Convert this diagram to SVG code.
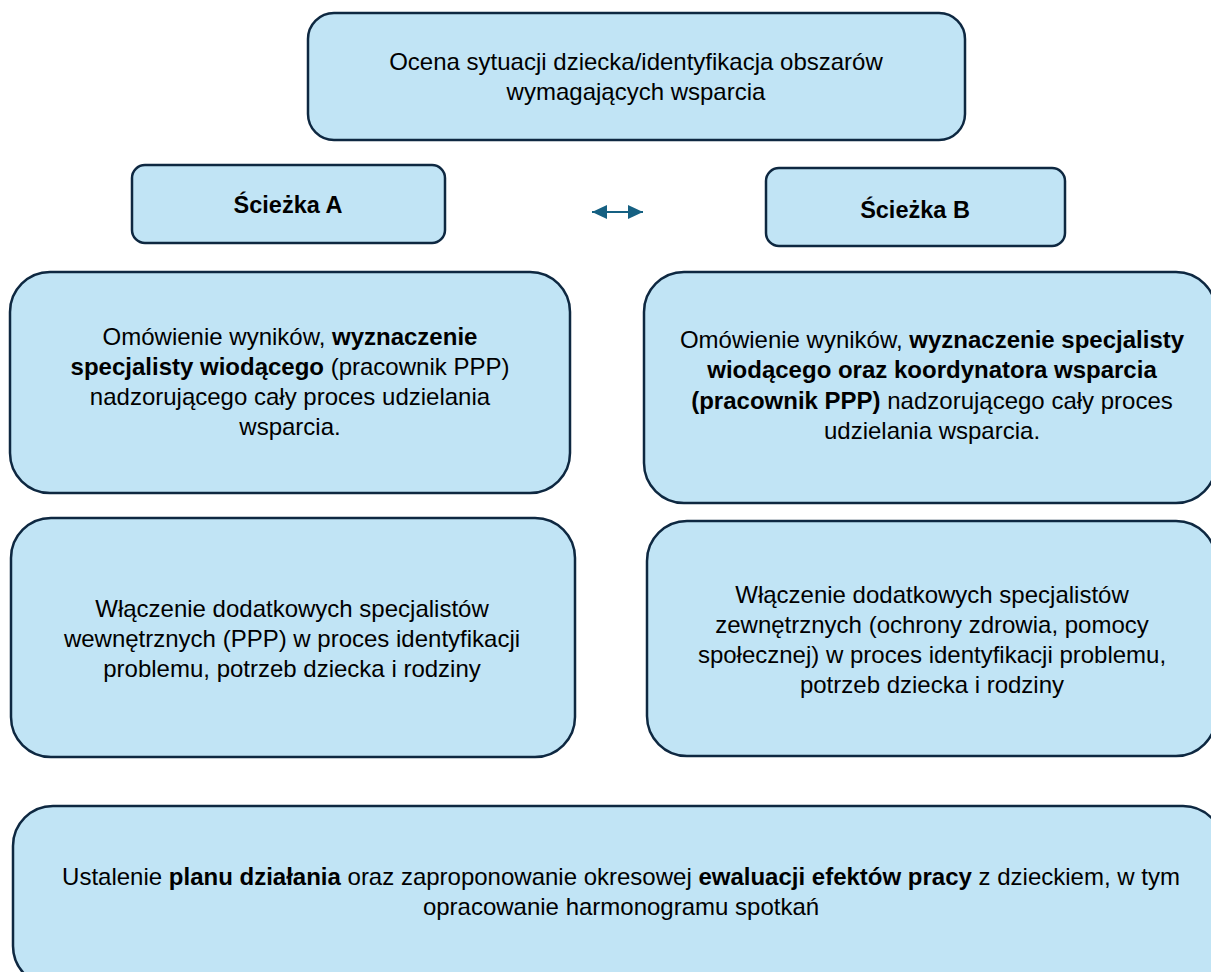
<svg xmlns="http://www.w3.org/2000/svg" width="1211" height="972" viewBox="0 0 1211 972">
<style>
.box{fill:#C1E4F5;stroke:#0E2841;stroke-width:2.5}
.t{font-family:"Liberation Sans",Arial,sans-serif;font-size:24px;fill:#000;text-anchor:middle}
.b{font-weight:bold}
.h{font-family:"Liberation Sans",Arial,sans-serif;font-size:23.5px;font-weight:bold;fill:#000;text-anchor:middle}
</style>
<defs>
<marker id="ah" viewBox="0 0 15 14" refX="15" refY="7" markerWidth="15" markerHeight="14" orient="auto-start-reverse" markerUnits="userSpaceOnUse">
<path d="M0,0 L15,7 L0,14 z" fill="#156082"/>
</marker>
</defs>
<rect width="1211" height="972" fill="#fff"/>
<g id="connectors">
<line x1="592" y1="212" x2="643" y2="212" stroke="#156082" stroke-width="2" marker-start="url(#ah)" marker-end="url(#ah)"/>
</g>
<g id="n-ocena">
<rect class="box" x="308" y="13" width="657" height="127" rx="26"/>
<text class="t" x="636" y="70">Ocena sytuacji dziecka/identyfikacja obszarów</text>
<text class="t" x="636" y="100">wymagających wsparcia</text>
</g>
<g id="n-sciezka-a">
<rect class="box" x="132" y="165" width="313" height="78" rx="13"/>
<text class="h" x="288" y="213">Ścieżka A</text>
</g>
<g id="n-sciezka-b">
<rect class="box" x="766" y="168" width="299" height="78" rx="13"/>
<text class="h" x="915" y="218">Ścieżka B</text>
</g>
<g id="n-a1">
<rect class="box" x="10" y="272" width="560" height="221" rx="40"/>
<text class="t" x="290" y="345">Omówienie wyników, <tspan class="b">wyznaczenie</tspan></text>
<text class="t" x="290" y="375"><tspan class="b">specjalisty wiodącego</tspan> (pracownik PPP)</text>
<text class="t" x="290" y="405">nadzorującego cały proces udzielania</text>
<text class="t" x="290" y="435">wsparcia.</text>
</g>
<g id="n-b1">
<rect class="box" x="644" y="272" width="572" height="231" rx="40"/>
<text class="t" x="932" y="348">Omówienie wyników, <tspan class="b">wyznaczenie specjalisty</tspan></text>
<text class="t" x="932" y="378" font-weight="bold">wiodącego oraz koordynatora wsparcia</text>
<text class="t" x="932" y="409"><tspan class="b">(pracownik PPP)</tspan> nadzorującego cały proces</text>
<text class="t" x="932" y="439">udzielania wsparcia.</text>
</g>
<g id="n-a2">
<rect class="box" x="11" y="518" width="564" height="239" rx="40"/>
<text class="t" x="292" y="617">Włączenie dodatkowych specjalistów</text>
<text class="t" x="292" y="647">wewnętrznych (PPP) w proces identyfikacji</text>
<text class="t" x="292" y="677">problemu, potrzeb dziecka i rodziny</text>
</g>
<g id="n-b2">
<rect class="box" x="647" y="521" width="569" height="235" rx="40"/>
<text class="t" x="932" y="603">Włączenie dodatkowych specjalistów</text>
<text class="t" x="932" y="633">zewnętrznych (ochrony zdrowia, pomocy</text>
<text class="t" x="932" y="663">społecznej) w proces identyfikacji problemu,</text>
<text class="t" x="932" y="693">potrzeb dziecka i rodziny</text>
</g>
<g id="n-plan">
<rect class="box" x="13" y="806" width="1210" height="180" rx="40"/>
<text class="t" x="621" y="885">Ustalenie <tspan class="b">planu działania</tspan> oraz zaproponowanie okresowej <tspan class="b">ewaluacji efektów pracy</tspan> z dzieckiem, w tym</text>
<text class="t" x="621" y="915">opracowanie harmonogramu spotkań</text>
</g>
</svg>
